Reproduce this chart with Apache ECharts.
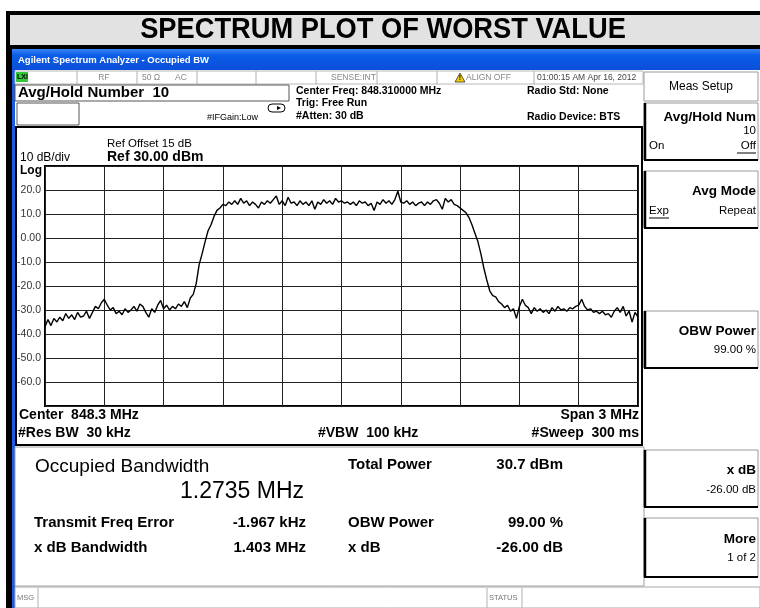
<!DOCTYPE html>
<html>
<head>
<meta charset="utf-8">
<script src="https://cdn.jsdelivr.net/npm/echarts@6/dist/echarts.min.js"></script>
<style>
html, body { margin: 0; padding: 0; background: #fff; }
#main { width: 760px; height: 608px; }
</style>
</head>
<body>
<div id="main"></div>
<script>
// sweep: 3 MHz span round 848.3 MHz, 201 points
var centerMHz = 848.3;
var spanKHz = 3000;
var stepKHz = 15;
var yLabelTicks = [20, 10, 0, -10, -20, -30, -40, -50, -60];

// averaged trace in dBm, left to right
var traceDbm = [
  -37, -34, -36.5, -33.5, -35, -33, -34.5, -31.5, -33.5, -32,
  -34, -31, -33, -32.5, -30.5, -33.5, -31, -28.5, -29.5, -27,
  -25.5, -28, -30, -29, -31.5, -30.5, -32, -29.5, -31, -30,
  -28.5, -30.5, -27.5, -28.5, -31, -33, -29.5, -31, -28, -26,
  -29.5, -28, -30, -28.5, -29.5, -27.5, -28.5, -26.5, -29, -25,
  -23.5, -19, -11, -6.5, -1.5, 3, 5.5, 9, 11.5, 12.5,
  14, 13.5, 15, 14, 15.5, 14, 16.5, 14.5, 15.5, 13.5,
  15, 14, 12.5, 15, 14, 15.5, 14.5, 16, 17.5, 14,
  15.5, 13.5, 17, 14.5, 15, 13.5, 15.5, 14, 15, 13.5,
  15.5, 12, 15, 14, 16, 14.5, 15.5, 14, 16.5, 15,
  15.5, 14.5, 15, 14, 15, 13.5, 15.5, 14.5, 15, 13.5,
  14.5, 11.5, 15, 14, 16, 14.5, 15.5, 14, 16, 19.5,
  15, 14.5, 15.5, 14, 15, 13.5, 14.5, 15, 13.5, 15,
  14, 15.5, 16, 14.5, 12, 16.5, 15, 16, 14, 13.5,
  12.5, 11.5, 10.5, 8.5, 5.5, 2, -1.5, -6.5, -12.5, -17.5,
  -22, -24, -24.5, -26.5, -27.5, -29, -28, -30.5, -29.5, -33.5,
  -28.5, -25.5, -28, -29, -31.5, -29, -30.5, -29.5, -31, -30,
  -31.5, -29, -30.5, -28.5, -30, -29.5, -30.5, -29, -29.5, -28.5,
  -28, -25.5, -28.5, -30, -29.5, -31, -30.5, -31.5, -30.5, -32,
  -31.5, -33, -30.5, -29, -31, -28.5, -32.5, -30.5, -35, -31,
  -33
];

var FONT = "'Liberation Sans', Arial, sans-serif";

function T(x, y, s, size, o) {
  o = o || {};
  return {
    type: 'text', x: x, y: y, z: 100, scaleX: o.sx || 1,
    style: {
      text: s, fontSize: size, fontFamily: FONT,
      fontWeight: o.bold ? 'bold' : 'normal',
      fill: o.color || '#000', align: o.align || 'left', verticalAlign: 'middle'
    }
  };
}
function R(x, y, w, h, fill, stroke, lw, r) {
  return {
    type: 'rect', z: 1,
    shape: { x: x, y: y, width: w, height: h, r: r || 0 },
    style: { fill: fill || 'none', stroke: stroke || null, lineWidth: lw || 1 }
  };
}
function L(x1, y1, x2, y2, c, lw) {
  return {
    type: 'line', z: 50,
    shape: { x1: x1, y1: y1, x2: x2, y2: y2 },
    style: { stroke: c || '#000', lineWidth: lw || 1 }
  };
}

var els = [];
// title strip
els.push(R(6, 11, 754, 38, '#000'));
els.push(R(10, 15, 750, 30, '#e2e2e2'));
els.push(T(383, 30, 'SPECTRUM PLOT OF WORST VALUE', 29, { bold: true, align: 'center', sx: 0.94 }));
// window frame
els.push(R(6, 49, 6, 559, '#000'));
els.push(R(12, 49, 3, 559, '#1c5adf'));
els.push(R(12, 49, 748, 21, {
  type: 'linear', x: 0, y: 0, x2: 0, y2: 1,
  colorStops: [{ offset: 0, color: '#3a86f4' }, { offset: 0.3, color: '#0b5ce8' }, { offset: 1, color: '#0a4fd8' }]
}));
els.push(T(18, 60, 'Agilent Spectrum Analyzer - Occupied BW', 9.5, { bold: true, color: '#fff' }));

// status row
els.push(R(15, 71, 628, 13, '#fff', '#b8b8b8'));
els.push(R(16, 72, 12, 10, '#34c63c'));
els.push(T(17, 77, 'LXI', 7, { bold: true }));
[77, 137, 197, 256, 316, 377, 437, 534].forEach(function (x) { els.push(L(x, 71, x, 84, '#b0b0b0')); });
els.push(T(104, 78, 'RF', 8.5, { color: '#888', align: 'center' }));
els.push(T(142, 78, '50 Ω', 8.5, { color: '#888' }));
els.push(T(175, 78, 'AC', 8.5, { color: '#888' }));
els.push(T(331, 78, 'SENSE:INT', 8.5, { color: '#888' }));
els.push({ type: 'polygon', z: 60, shape: { points: [[460, 73], [455, 82], [465, 82]] }, style: { fill: '#f4d000', stroke: '#333', lineWidth: 0.8 } });
els.push(T(460, 78.5, '!', 7, { bold: true, align: 'center' }));
els.push(T(466, 78, 'ALIGN OFF', 8.5, { color: '#888' }));
els.push(T(537, 78, '01:00:15 AM Apr 16, 2012', 8.5, { color: '#444' }));

// header
els.push(R(15, 85, 274, 16, 'none', '#555'));
els.push(T(18, 93, 'Avg/Hold Number  10', 15, { bold: true }));
els.push(R(17, 103, 62, 22, 'none', '#555'));
els.push(T(207, 118, '#IFGain:Low', 9));
els.push(R(268, 104, 17, 8, 'none', '#000', 1, 4));
els.push({ type: 'polygon', z: 60, shape: { points: [[277, 106], [281, 108], [277, 110]] }, style: { fill: '#000' } });
els.push(T(296, 91, 'Center Freq: 848.310000 MHz', 10.5, { bold: true }));
els.push(T(296, 103, 'Trig: Free Run', 10.5, { bold: true }));
els.push(T(296, 116, '#Atten: 30 dB', 10.5, { bold: true }));
els.push(T(527, 91, 'Radio Std: None', 10.5, { bold: true }));
els.push(T(527, 117, 'Radio Device: BTS', 10.5, { bold: true }));

// graph panel
els.push(R(16, 127, 626, 318, 'none', '#000', 2));
els.push(T(107, 144, 'Ref Offset 15 dB', 11.5));
els.push(T(107, 157, 'Ref 30.00 dBm', 14, { bold: true }));
els.push(T(20, 158, '10 dB/div', 12));
els.push(T(20, 171, 'Log', 12, { bold: true }));
els.push(T(19, 415, 'Center  848.3 MHz', 14, { bold: true }));
els.push(T(639, 415, 'Span 3 MHz', 14, { bold: true, align: 'right' }));
els.push(T(18, 433, '#Res BW  30 kHz', 14, { bold: true }));
els.push(T(318, 433, '#VBW  100 kHz', 14, { bold: true }));
els.push(T(639, 433, '#Sweep  300 ms', 14, { bold: true, align: 'right' }));

// result panel
els.push(R(15, 447, 629, 139, '#fff', '#a0a0a0'));
els.push(T(35, 467, 'Occupied Bandwidth', 19));
els.push(T(180, 492, '1.2735 MHz', 23));
els.push(T(348, 465, 'Total Power', 15, { bold: true }));
els.push(T(563, 465, '30.7 dBm', 15, { bold: true, align: 'right' }));
els.push(T(34, 523, 'Transmit Freq Error', 15, { bold: true }));
els.push(T(306, 523, '-1.967 kHz', 15, { bold: true, align: 'right' }));
els.push(T(348, 523, 'OBW Power', 15, { bold: true }));
els.push(T(563, 523, '99.00 %', 15, { bold: true, align: 'right' }));
els.push(T(34, 548, 'x dB Bandwidth', 15, { bold: true }));
els.push(T(306, 548, '1.403 MHz', 15, { bold: true, align: 'right' }));
els.push(T(348, 548, 'x dB', 15, { bold: true }));
els.push(T(563, 548, '-26.00 dB', 15, { bold: true, align: 'right' }));

// message bar
els.push(R(15, 587, 745, 21, '#fff', '#a8a8a8'));
els.push(L(38, 588, 38, 608, '#b0b0b0'));
els.push(L(487, 588, 487, 608, '#b0b0b0'));
els.push(L(522, 588, 522, 608, '#b0b0b0'));
els.push(T(17, 598, 'MSG', 7.5, { color: '#777' }));
els.push(T(489, 598, 'STATUS', 7.5, { color: '#777' }));

// soft keys
function key(y, h) {
  els.push(R(644, y, 114, h, '#fff', '#9a9a9a'));
  els.push(L(645, y, 645, y + h, '#000', 2.5));
  els.push(L(644, y + h, 758, y + h, '#000', 2));
}
els.push(R(644, 72, 114, 29, '#fff', '#9a9a9a'));
els.push(T(701, 87, 'Meas Setup', 12, { align: 'center' }));
key(103, 57);
els.push(T(756, 117, 'Avg/Hold Num', 13.5, { bold: true, align: 'right' }));
els.push(T(756, 131, '10', 11.5, { align: 'right' }));
els.push(T(649, 146, 'On', 11.5));
els.push(T(756, 146, 'Off', 11.5, { align: 'right' }));
els.push(L(737, 153, 756, 153, '#000', 1));
key(171, 57);
els.push(T(756, 191, 'Avg Mode', 13.5, { bold: true, align: 'right' }));
els.push(T(649, 211, 'Exp', 11.5));
els.push(L(649, 218, 669, 218, '#000', 1));
els.push(T(756, 211, 'Repeat', 11.5, { align: 'right' }));
key(311, 57);
els.push(T(756, 331, 'OBW Power', 13.5, { bold: true, align: 'right' }));
els.push(T(756, 350, '99.00 %', 11.5, { align: 'right' }));
key(450, 57);
els.push(T(756, 470, 'x dB', 13.5, { bold: true, align: 'right' }));
els.push(T(756, 490, '-26.00 dB', 11.5, { align: 'right' }));
key(518, 59);
els.push(T(756, 539, 'More', 13.5, { bold: true, align: 'right' }));
els.push(T(756, 558, '1 of 2', 11.5, { align: 'right' }));

var traceData = traceDbm.map(function (v, i) { return [-spanKHz / 2 + i * stepKHz, v]; });

var myChart = echarts.init(document.getElementById('main'));
myChart.setOption({
  animation: false,
  backgroundColor: '#fff',
  grid: {
    left: 45, top: 166, width: 593, height: 240,
    show: true, borderColor: '#000', borderWidth: 2
  },
  xAxis: {
    type: 'value', min: -spanKHz / 2, max: spanKHz / 2, interval: 300,
    axisLine: { show: false }, axisTick: { show: false }, axisLabel: { show: false },
    splitLine: { show: true, lineStyle: { color: '#222', width: 1 } }
  },
  yAxis: {
    type: 'value', min: -70, max: 30, interval: 10,
    axisLine: { show: false }, axisTick: { show: false },
    axisLabel: {
      margin: 4, fontSize: 10.5, color: '#333', fontFamily: FONT,
      formatter: function (v) {
        if (yLabelTicks.indexOf(v) < 0) return '';
        return v === 0 ? '0.00' : v.toFixed(1);
      }
    },
    splitLine: { show: true, lineStyle: { color: '#222', width: 1 } }
  },
  graphic: { elements: els },
  series: [{
    type: 'line', data: traceData, showSymbol: false, z: 5,
    lineStyle: { color: '#000', width: 1.4 }
  }]
});
</script>
</body>
</html>
